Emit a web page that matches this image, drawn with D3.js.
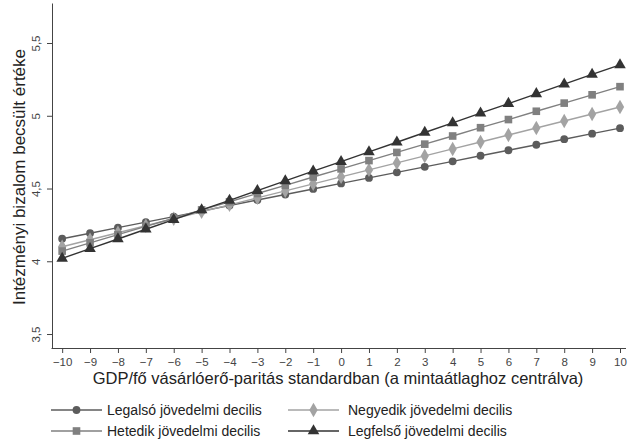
<!DOCTYPE html>
<html>
<head>
<meta charset="utf-8">
<script src="https://cdn.jsdelivr.net/npm/d3@7"></script>
<style>
  body { margin: 0; background: #fff; }
  svg { font-family: "Liberation Sans", Arial, sans-serif; }
</style>
</head>
<body>
<svg id="chart"></svg>
<script>
// values
var gdp = [-10, -9, -8, -7, -6, -5, -4, -3, -2, -1, 0, 1, 2, 3, 4, 5, 6, 7, 8, 9, 10]
var yTicks = [3.5, 4, 4.5, 5, 5.5]
var yTickLabels = ["3,5", "4", "4,5", "5", "5,5"]

var legalso   = [4.155, 4.193, 4.231, 4.269, 4.307, 4.345, 4.383, 4.421, 4.459, 4.497, 4.535, 4.573, 4.611, 4.649, 4.687, 4.725, 4.763, 4.801, 4.839, 4.877, 4.915]
var negyedik  = [4.10, 4.148, 4.196, 4.244, 4.292, 4.34, 4.388, 4.436, 4.484, 4.532, 4.58, 4.628, 4.676, 4.724, 4.772, 4.82, 4.868, 4.916, 4.964, 5.012, 5.06]
var hetedik   = [4.07, 4.127, 4.183, 4.24, 4.296, 4.353, 4.409, 4.466, 4.522, 4.579, 4.635, 4.692, 4.748, 4.805, 4.861, 4.918, 4.974, 5.031, 5.087, 5.144, 5.20]
var legfelso  = [4.02, 4.087, 4.153, 4.22, 4.286, 4.353, 4.419, 4.486, 4.552, 4.619, 4.685, 4.752, 4.818, 4.885, 4.951, 5.018, 5.084, 5.151, 5.217, 5.284, 5.35]

var seriesNames = ["Legalsó jövedelmi decilis", "Negyedik jövedelmi decilis", "Hetedik jövedelmi decilis", "Legfelső jövedelmi decilis"]

var series = [
  {name: seriesNames[0], values: legalso,  color: "#5c5c5c", symbol: d3.symbolCircle,   size: 48},
  {name: seriesNames[1], values: negyedik, color: "#a3a3a3", symbol: d3.symbolDiamond,  size: 60},
  {name: seriesNames[2], values: hetedik,  color: "#808080", symbol: d3.symbolSquare,   size: 58},
  {name: seriesNames[3], values: legfelso, color: "#333333", symbol: d3.symbolTriangle, size: 58}
]

var width = 629
var height = 445

var svg = d3.select("#chart")
  .attr("width", width)
  .attr("height", height)

var xScale = d3.scaleLinear()
  .domain([-10.4, 10])
  .range([51, 620])

var yScale = d3.scaleLinear()
  .domain([3.404, 5.775])
  .range([348, 3])

// axes
var xAxis = svg.append("g")
  .attr("transform", "translate(0,348)")
  .call(d3.axisBottom(xScale).tickValues(gdp).tickSize(5).tickSizeOuter(0).tickPadding(5))
xAxis.select(".domain").attr("d", "M51.5,0.5H" + (width - 3) )
xAxis.selectAll("text").attr("font-size", "11.5px").attr("fill", "#444").attr("font-family", "Liberation Sans, Arial, sans-serif")
xAxis.selectAll("line,path").attr("stroke", "#444")

var yAxis = svg.append("g")
  .attr("transform", "translate(52,0)")
  .call(d3.axisLeft(yScale).tickValues(yTicks).tickFormat(function(d, i){ return yTickLabels[i] }).tickSize(5).tickSizeOuter(0))
yAxis.selectAll("line,path").attr("stroke", "#444")
yAxis.selectAll("text")
  .attr("font-size", "11.5px")
  .attr("fill", "#444")
  .attr("font-family", "Liberation Sans, Arial, sans-serif")
  .attr("text-anchor", "middle")
  .attr("transform", "rotate(-90)")
  .attr("x", 0)
  .attr("y", -12)
  .attr("dy", "0")

// axis titles
svg.append("text")
  .attr("x", 338)
  .attr("y", 384)
  .attr("text-anchor", "middle")
  .attr("font-size", "16.5px")
  .attr("fill", "#222")
  .text("GDP/fő vásárlóerő-paritás standardban (a mintaátlaghoz centrálva)")

svg.append("text")
  .attr("transform", "rotate(-90)")
  .attr("x", -177)
  .attr("y", 25)
  .attr("text-anchor", "middle")
  .attr("font-size", "17px")
  .attr("fill", "#222")
  .text("Intézményi bizalom becsült értéke")

// lines + markers
var line = d3.line()
  .x(function(d, i){ return xScale(gdp[i]) })
  .y(function(d){ return yScale(d) })

series.forEach(function(s){
  svg.append("path")
    .datum(s.values)
    .attr("fill", "none")
    .attr("stroke", s.color)
    .attr("stroke-width", 1.4)
    .attr("d", line)

  svg.append("g").selectAll("path")
    .data(s.values)
    .enter().append("path")
    .attr("d", d3.symbol().type(s.symbol).size(s.size))
    .attr("transform", function(d, i){ return "translate(" + xScale(gdp[i]) + "," + yScale(d) + ")" })
    .attr("fill", s.color)
})

// legend
var legendPos = [
  {x: 51, y: 410, tx: 107},
  {x: 288, y: 410, tx: 348},
  {x: 51, y: 431, tx: 107},
  {x: 288, y: 431, tx: 348}
]

var legend = svg.selectAll(".legend")
  .data(series)
  .enter().append("g")
  .attr("class", "legend")
  .attr("transform", function(d, i){ return "translate(" + legendPos[i].x + "," + legendPos[i].y + ")" })

legend.append("line")
  .attr("x1", 0).attr("x2", 51)
  .attr("y1", 0).attr("y2", 0)
  .attr("stroke", function(d){ return d.color })
  .attr("stroke-width", 1.4)

legend.append("path")
  .attr("d", function(d){ return d3.symbol().type(d.symbol).size(d.size)() })
  .attr("transform", "translate(25.5,0)")
  .attr("fill", function(d){ return d.color })

legend.append("text")
  .attr("x", function(d, i){ return legendPos[i].tx - legendPos[i].x })
  .attr("y", 5)
  .attr("font-size", "14px")
  .attr("fill", "#222")
  .text(function(d){ return d.name })
</script>
</body>
</html>
